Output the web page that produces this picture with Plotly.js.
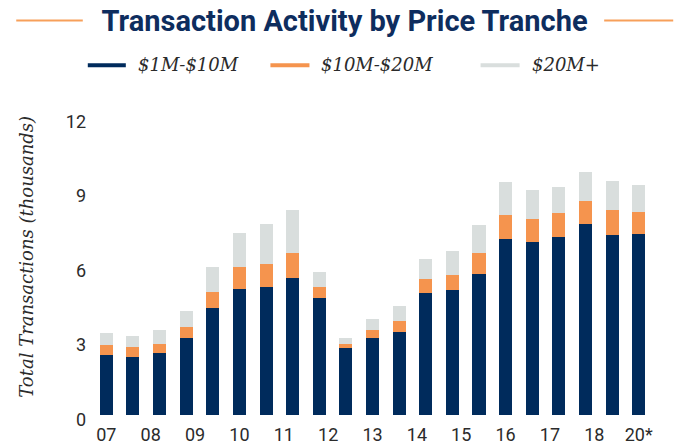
<!DOCTYPE html>
<html>
<head>
<meta charset="utf-8">
<script src="https://cdn.plot.ly/plotly-3.0.1.min.js"></script>
<style>html,body{margin:0;padding:0;background:#fff;}#chart{width:676px;height:446px;}</style>
</head>
<body>
<div id="chart"></div>
<script>
// ---- data (thousands of transactions) ----
const seriesNames = ["$1M-$10M", "$10M-$20M", "$20M+"];
const tranche1 = [2.41,2.33,2.49,3.09,4.30,5.07,5.15,5.51,4.71,2.69,3.09,3.33,4.91,5.03,5.67,7.08,6.96,7.17,7.69,7.25,7.29];
const tranche2 = [0.40,0.40,0.36,0.44,0.65,0.89,0.93,1.01,0.44,0.16,0.32,0.44,0.56,0.60,0.85,0.97,0.93,0.97,0.93,1.01,0.89];
const tranche3 = [0.50,0.44,0.56,0.65,1.01,1.37,1.61,1.73,0.60,0.24,0.44,0.60,0.81,0.97,1.13,1.33,1.17,1.05,1.17,1.17,1.09];
const tickLabels = ["07","08","09","10","11","12","13","14","15","16","17","18","20*"];
const yTicks = [0,3,6,9,12];

// ---- styling ----
const colors = ["#002b5c", "#f5944e", "#d9dedd"];
const W = 676, H = 446;
const yMin = -0.25, yMax = 12;
const plotL = 93.2, plotR = 651.8, plotT = 117.1, zeroPx = 414.7;
const unitPx = (zeroPx - plotT) / yMax;
const plotB = zeroPx - yMin * unitPx;
const px = x => (x - plotL) / (plotR - plotL);
const py = y => (plotB - y) / (plotB - plotT);
const labelDrop = 4.6; // y tick labels sit slightly below their value in the reference

const barX = tranche1.map((_, i) => i);
const nBars = barX.length;
const tickVals = tickLabels.map((_, k) => k * (nBars - 1) / (tickLabels.length - 1));

const series = [tranche1, tranche2, tranche3];
const traces = series.map((vals, s) => ({
  type: "bar",
  x: barX,
  y: vals,
  name: seriesNames[s],
  width: 0.49,
  marker: {color: colors[s], line: {width: 0}},
  showlegend: false,
  hoverinfo: "y+name"
}));

const legendFont = {family: "DejaVu Serif, Liberation Serif, serif", size: 18, color: "#2b2b2b", style: "italic"};
const legendItems = [
  {x0: 88, x1: 126, tx: 136.5},
  {x0: 270.5, x1: 309.5, tx: 319.5},
  {x0: 480.5, x1: 519.5, tx: 530}
];
const legendY = 65.5;

const shapes = [
  {type: "line", xref: "paper", yref: "paper", x0: px(16.5), x1: px(83), y0: py(20.7), y1: py(20.7), line: {color: "#f7a05a", width: 2}},
  {type: "line", xref: "paper", yref: "paper", x0: px(604), x1: px(673), y0: py(20.7), y1: py(20.7), line: {color: "#f7a05a", width: 2}}
];
const annotations = [
  {xref: "paper", yref: "paper", x: px(26.5), y: py(256.5), text: "Total Transactions (thousands)", textangle: -90,
   showarrow: false, xanchor: "center", yanchor: "middle",
   font: {family: "DejaVu Serif, Liberation Serif, serif", size: 18, color: "#2b2b2b", style: "italic"}}
];
legendItems.forEach((it, s) => {
  shapes.push({type: "line", xref: "paper", yref: "paper", x0: px(it.x0), x1: px(it.x1), y0: py(legendY), y1: py(legendY),
    line: {color: colors[s], width: 4}});
  annotations.push({xref: "paper", yref: "paper", x: px(it.tx), y: py(legendY - 1), text: seriesNames[s].replace(/\$/g, "&#36;"),
    showarrow: false, xanchor: "left", yanchor: "middle", font: legendFont});
});

const layout = {
  width: W, height: H,
  margin: {l: plotL, r: W - plotR, t: plotT, b: H - plotB, pad: 0},
  paper_bgcolor: "#ffffff",
  plot_bgcolor: "#ffffff",
  barmode: "stack",
  showlegend: false,
  title: {
    text: "<b>Transaction Activity by Price Tranche</b>",
    xref: "container", yref: "container",
    x: 344.6 / W, xanchor: "center",
    y: 1 - 20.5 / H, yanchor: "middle",
    font: {family: "Roboto, Inter, sans-serif", size: 29, color: "#0e2d5e"}
  },
  xaxis: {
    range: [-0.5, nBars - 0.5],
    tickmode: "array",
    tickvals: tickVals,
    ticktext: tickLabels,
    showgrid: false, zeroline: false, showline: false, ticks: "",
    ticklabelstandoff: 1,
    tickfont: {family: "Roboto, Inter, sans-serif", size: 18, color: "#2b2b2b"},
    fixedrange: true
  },
  yaxis: {
    range: [yMin, yMax],
    tickmode: "array",
    tickvals: yTicks.map(v => v - labelDrop / unitPx),
    ticktext: yTicks.map(String),
    showgrid: false, zeroline: false, showline: false, ticks: "",
    ticklabelstandoff: 6,
    tickfont: {family: "Roboto, Inter, sans-serif", size: 18, color: "#2b2b2b"},
    fixedrange: true
  },
  shapes: shapes,
  annotations: annotations
};

Plotly.newPlot("chart", traces, layout, {displayModeBar: false, staticPlot: true});
</script>
</body>
</html>
